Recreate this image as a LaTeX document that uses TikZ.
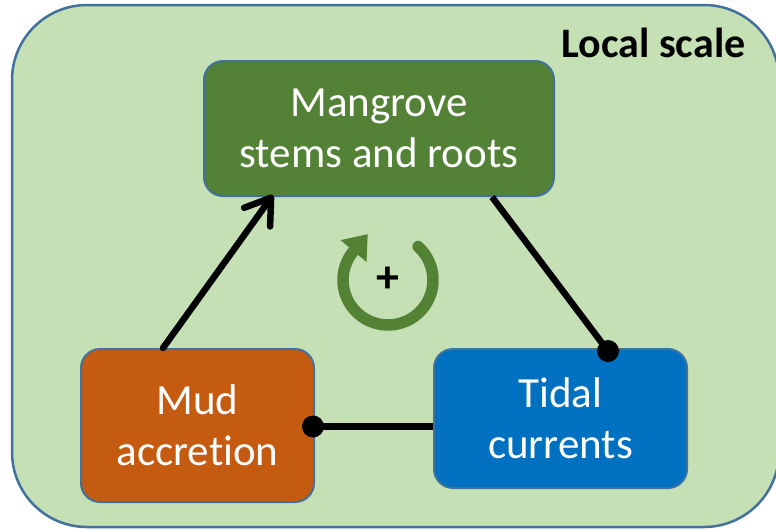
\documentclass[tikz,border=0pt]{standalone}
\usepackage{fontspec}
\setmainfont[RawFeature=-liga]{Carlito}
\usetikzlibrary{arrows.meta,calc}

\definecolor{panelfill}{HTML}{C5E0B4}
\definecolor{edgeblue}{HTML}{41719C}
\definecolor{mangrovegreen}{HTML}{538135}
\definecolor{mudorange}{HTML}{C55A11}
\definecolor{tideblue}{HTML}{0070C0}
\definecolor{loopgreen}{HTML}{548235}

\tikzset{
  panel/.style={draw=edgeblue, line width=2.5pt, fill=panelfill,
    rounded corners=75pt, minimum width=767pt, minimum height=522pt, inner sep=0pt},
  factor/.style={draw=edgeblue, line width=2pt, rounded corners=19pt,
    text=white, align=center, inner sep=0pt,
    font=\fontsize{43}{51}\selectfont},
  link/.style={line width=6.5pt, black},
  promotes/.style={link, line cap=round,
    -{Straight Barb[length=24pt,width=32pt,round]}},
  dot/.style={black},
  loopline/.style={loopgreen, line width=11.5pt, line cap=round},
}

\begin{document}
\begin{tikzpicture}[x=1pt,y=-1pt]
\useasboundingbox (0,0) rectangle (776,531);

% outer panel (runs slightly past the right edge)
\node[panel] (panel) at (395.5,266) {};
\node[anchor=base east, font=\fontsize{42}{50}\selectfont\bfseries] (title) at (749,57) {Local scale};

% the three factors
\node[factor, fill=mangrovegreen, minimum width=350pt, minimum height=135pt] (mang) at (379,128.5) {Mangrove\\stems and roots};
\node[factor, fill=mudorange, minimum width=233pt, minimum height=153pt] (mud) at (197.5,425.5) {Mud\\accretion};
\node[factor, fill=tideblue, minimum width=253pt, minimum height=139pt] (tide) at (560.5,418.5) {Tidal\\currents};

% mud accretion promotes mangroves
\draw[promotes] ([xshift=83pt]mud.north west) -- ([xshift=70pt,yshift=2pt]mang.south west);

% mangroves damp tidal currents
\coordinate (d1) at ([xshift=175pt,yshift=-3pt]tide.north west);
\draw[link] ([xshift=289pt]mang.south west) -- (d1);
\fill[dot] (d1) circle (11pt);

% tidal currents limit mud accretion
\coordinate (d2) at ([xshift=-2pt,yshift=-1pt]mud.east);
\draw[link] (d2) -- (d2 -| tide.west);
\fill[dot] (d2) circle (11pt);

% positive feedback loop symbol
\coordinate (cyc) at (388,280);
\draw[loopline] ($(cyc)+(-48:45)$) arc[start angle=-48, end angle=220, radius=45];
\fill[loopgreen] ($(cyc)+(220:28)$) -- ($(cyc)+(220:62)$) -- ($(cyc)+(220:45)+(310:22)$) -- cycle;
\node[font=\fontsize{46}{50}\selectfont\bfseries] (plus) at (cyc) {+};
\end{tikzpicture}
\end{document}
